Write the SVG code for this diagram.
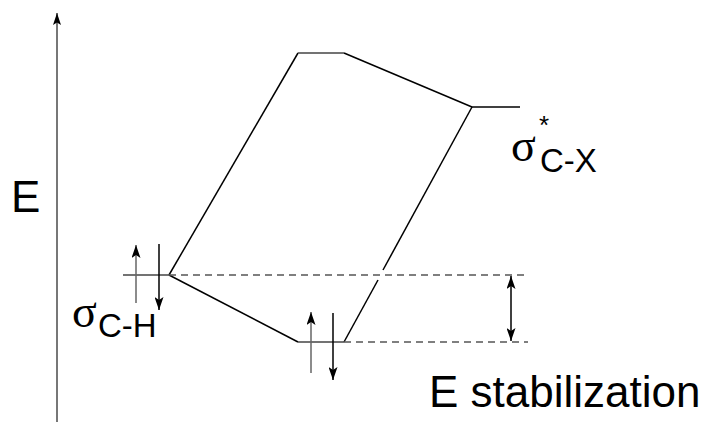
<svg xmlns="http://www.w3.org/2000/svg" width="702" height="423" viewBox="0 0 702 423">
<style>
.lvl{stroke:#444;stroke-width:1.5;fill:none}
.ln{stroke:#000;stroke-width:1.5;fill:none}
.dash{stroke:#555;stroke-width:1.3;stroke-dasharray:7 5;fill:none}
.up{stroke:#666;stroke-width:1.5;fill:none;marker-end:url(#ah)}
.dn{stroke:#000;stroke-width:1.5;fill:none;marker-end:url(#ah)}
.sans{font-family:"Liberation Sans",Arial,sans-serif;fill:#000}
.serif{font-family:"Liberation Serif","Times New Roman",serif;fill:#000}
</style>
<defs>
<marker id="ah" markerUnits="userSpaceOnUse" markerWidth="13" markerHeight="9" refX="13" refY="4.5" orient="auto" viewBox="0 0 13 9">
<path d="M0,0 L13,4.5 L0,9 L3,4.5 Z" fill="#000"/>
</marker>
<marker id="ahs" markerUnits="userSpaceOnUse" markerWidth="12" markerHeight="8" refX="12" refY="4" orient="auto" viewBox="0 0 12 8">
<path d="M0,0 L12,4 L0,8 L2.5,4 Z" fill="#000"/>
</marker>
<marker id="ahb" markerUnits="userSpaceOnUse" markerWidth="13" markerHeight="9" refX="13" refY="4.5" orient="auto-start-reverse" viewBox="0 0 13 9">
<path d="M0,0 L13,4.5 L0,9 L3,4.5 Z" fill="#000"/>
</marker>
</defs>
<g id="axis">
<line x1="57" y1="422" x2="57" y2="13" stroke="#777" stroke-width="2" marker-end="url(#ahs)"/>
<text class="sans" x="11" y="212" font-size="44">E</text>
</g>
<g id="connectors">
<line class="ln" x1="169" y1="275" x2="298" y2="53"/>
<line class="ln" x1="344" y1="53" x2="472" y2="107"/>
<line class="ln" x1="169" y1="275" x2="298" y2="342"/>
<line class="ln" x1="472" y1="107" x2="383" y2="270"/>
<line class="ln" x1="378" y1="280" x2="344" y2="342"/>
<line class="dash" x1="169" y1="275" x2="528" y2="275"/>
<line class="dash" x1="344" y1="342" x2="528" y2="342"/>
<line x1="511" y1="276" x2="511" y2="341" stroke="#000" stroke-width="1.5" marker-start="url(#ahb)" marker-end="url(#ahb)"/>
</g>
<g id="sigmaCH">
<line class="lvl" x1="123" y1="275" x2="169" y2="275"/>
<line class="up" x1="136" y1="303" x2="136" y2="245"/>
<line class="dn" x1="159" y1="244" x2="159" y2="310"/>
<text class="serif" x="72" y="327" font-size="46">σ</text>
<text class="sans" x="98" y="337" font-size="33">C-H</text>
</g>
<g id="sigmaCX">
<line class="lvl" x1="298" y1="53" x2="344" y2="53"/>
<line class="ln" x1="472" y1="107" x2="520" y2="107"/>
<text class="serif" x="511" y="161" font-size="46">σ</text>
<text class="sans" x="539" y="134" font-size="26">*</text>
<text class="sans" x="540" y="172" font-size="33">C-X</text>
</g>
<g id="stabilized">
<line class="lvl" x1="298" y1="342" x2="344" y2="342"/>
<line class="up" x1="311" y1="373" x2="311" y2="312"/>
<line class="dn" x1="333" y1="313" x2="333" y2="380"/>
</g>
<g id="label">
<text class="sans" x="429" y="407" font-size="44">E stabilization</text>
</g>
</svg>
